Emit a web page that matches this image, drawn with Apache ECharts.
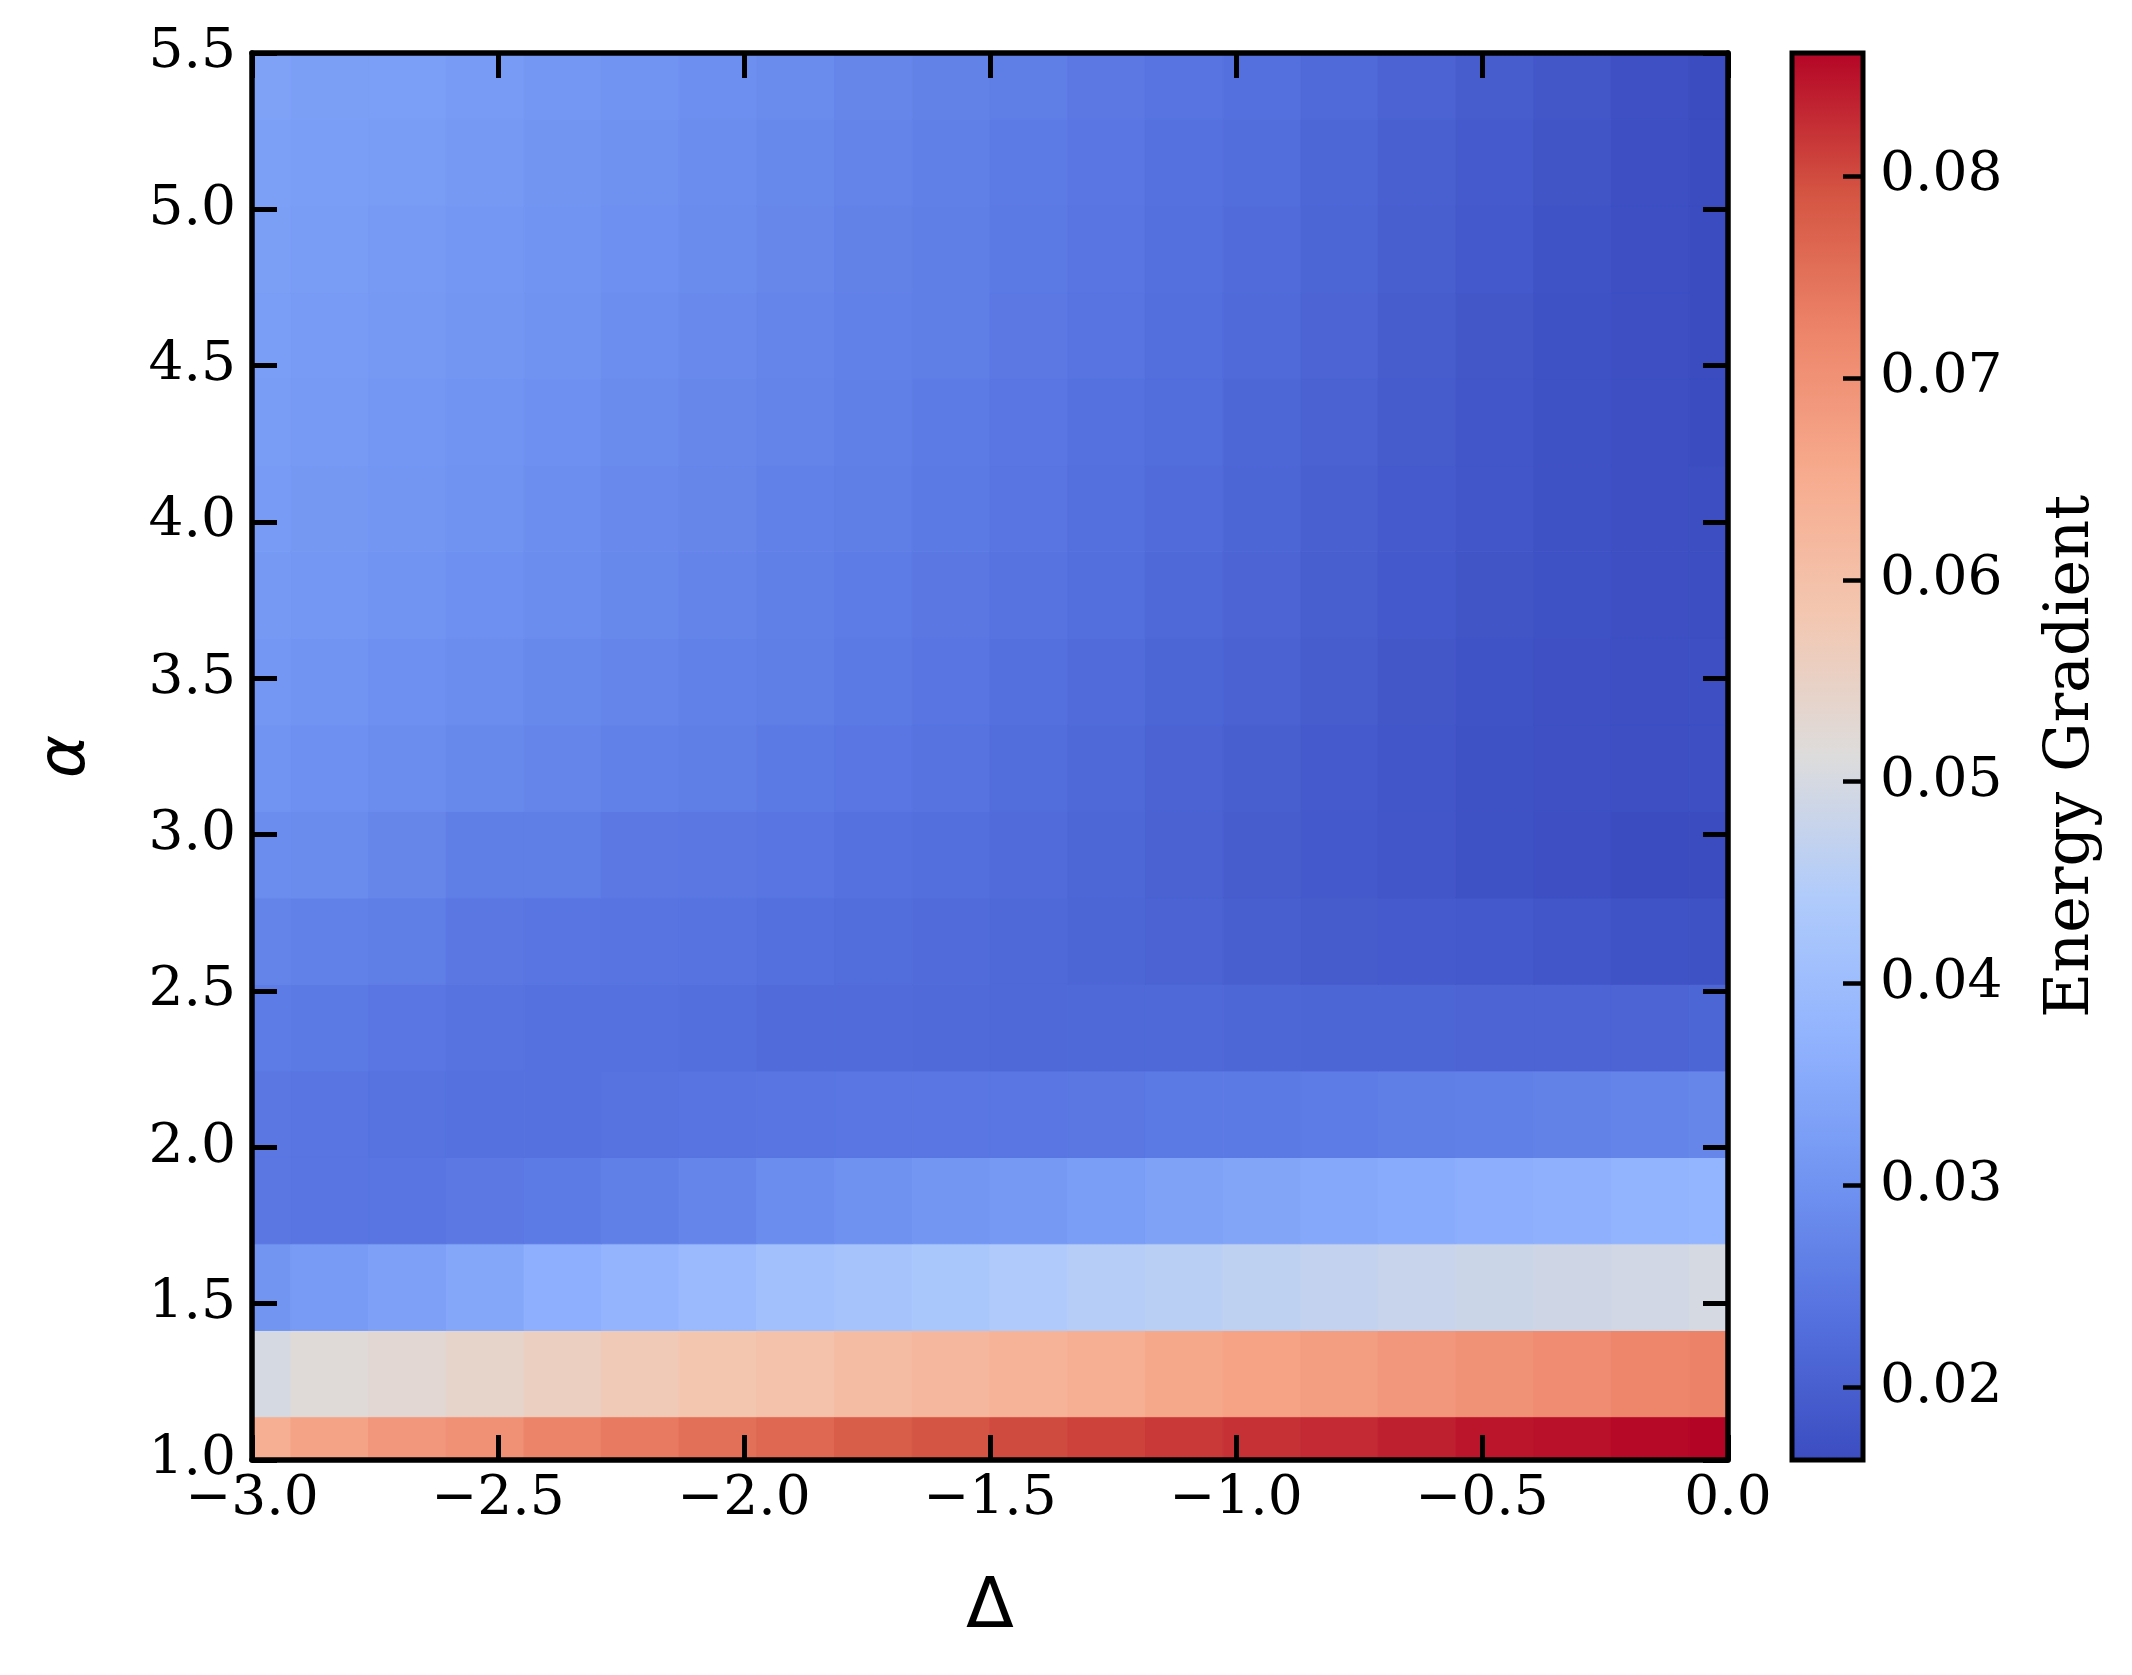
<!DOCTYPE html>
<html><head><meta charset="utf-8">
<script src="https://cdn.jsdelivr.net/npm/echarts@6/dist/echarts.min.js"></script>
<style>html,body{margin:0;padding:0;background:#fff}#c{width:2132px;height:1675px}</style>
</head><body><div id="c"></div>
<script>
// Δ (x) cell centres and α (y) cell centres
const deltaValues = [-3.000,-2.842,-2.684,-2.526,-2.368,-2.211,-2.053,-1.895,-1.737,-1.579,-1.421,-1.263,-1.105,-0.947,-0.789,-0.632,-0.474,-0.316,-0.158,0.000];
const alphaValues = [1.000,1.277,1.553,1.830,2.106,2.383,2.660,2.936,3.213,3.489,3.766,4.043,4.319,4.596,4.872,5.149,5.426];

// Energy gradient, one row per α (bottom to top), one value per Δ
const row_1_000 = [0.0643,0.0667,0.0689,0.0701,0.0723,0.0737,0.0753,0.0763,0.0777,0.0790,0.0799,0.0806,0.0815,0.0822,0.0828,0.0837,0.0846,0.0850,0.0857,0.0861];
const row_1_277 = [0.0499,0.0520,0.0529,0.0542,0.0556,0.0572,0.0585,0.0597,0.0609,0.0622,0.0632,0.0642,0.0657,0.0669,0.0678,0.0689,0.0698,0.0709,0.0720,0.0725];
const row_1_553 = [0.0305,0.0319,0.0332,0.0347,0.0365,0.0379,0.0393,0.0412,0.0421,0.0430,0.0443,0.0452,0.0458,0.0466,0.0472,0.0478,0.0485,0.0489,0.0494,0.0499];
const row_1_830 = [0.0248,0.0243,0.0243,0.0250,0.0255,0.0265,0.0274,0.0289,0.0298,0.0308,0.0314,0.0323,0.0334,0.0341,0.0349,0.0356,0.0362,0.0369,0.0375,0.0377];
const row_2_106 = [0.0248,0.0243,0.0239,0.0236,0.0236,0.0239,0.0241,0.0243,0.0246,0.0246,0.0246,0.0248,0.0253,0.0253,0.0257,0.0260,0.0265,0.0269,0.0272,0.0277];
const row_2_383 = [0.0257,0.0253,0.0246,0.0239,0.0236,0.0236,0.0231,0.0225,0.0225,0.0223,0.0220,0.0220,0.0220,0.0217,0.0214,0.0214,0.0211,0.0211,0.0211,0.0214];
const row_2_660 = [0.0272,0.0267,0.0260,0.0248,0.0243,0.0241,0.0239,0.0234,0.0228,0.0225,0.0220,0.0214,0.0209,0.0200,0.0195,0.0192,0.0189,0.0184,0.0178,0.0175];
const row_2_936 = [0.0289,0.0287,0.0277,0.0260,0.0260,0.0250,0.0248,0.0243,0.0236,0.0231,0.0225,0.0217,0.0206,0.0197,0.0189,0.0184,0.0175,0.0170,0.0164,0.0164];
const row_3_213 = [0.0303,0.0296,0.0289,0.0282,0.0274,0.0267,0.0260,0.0253,0.0246,0.0239,0.0228,0.0220,0.0209,0.0200,0.0192,0.0184,0.0175,0.0172,0.0170,0.0170];
const row_3_489 = [0.0310,0.0303,0.0296,0.0289,0.0282,0.0274,0.0267,0.0260,0.0253,0.0243,0.0234,0.0225,0.0214,0.0206,0.0197,0.0186,0.0178,0.0172,0.0170,0.0170];
const row_3_766 = [0.0314,0.0310,0.0303,0.0296,0.0289,0.0282,0.0272,0.0265,0.0257,0.0248,0.0239,0.0231,0.0220,0.0211,0.0200,0.0189,0.0181,0.0175,0.0170,0.0167];
const row_4_043 = [0.0319,0.0312,0.0308,0.0301,0.0291,0.0284,0.0277,0.0267,0.0260,0.0253,0.0243,0.0234,0.0225,0.0214,0.0203,0.0192,0.0184,0.0175,0.0170,0.0167];
const row_4_319 = [0.0321,0.0317,0.0310,0.0303,0.0296,0.0287,0.0279,0.0272,0.0265,0.0255,0.0246,0.0236,0.0228,0.0217,0.0206,0.0195,0.0184,0.0175,0.0170,0.0164];
const row_4_596 = [0.0323,0.0319,0.0314,0.0308,0.0301,0.0291,0.0284,0.0274,0.0267,0.0260,0.0250,0.0241,0.0231,0.0223,0.0211,0.0197,0.0186,0.0175,0.0170,0.0164];
const row_4_872 = [0.0328,0.0321,0.0317,0.0310,0.0303,0.0296,0.0287,0.0279,0.0269,0.0262,0.0253,0.0243,0.0234,0.0225,0.0214,0.0200,0.0189,0.0178,0.0170,0.0164];
const row_5_149 = [0.0330,0.0323,0.0321,0.0314,0.0305,0.0298,0.0289,0.0282,0.0272,0.0265,0.0255,0.0246,0.0236,0.0228,0.0217,0.0203,0.0192,0.0181,0.0170,0.0164];
const row_5_426 = [0.0334,0.0328,0.0325,0.0319,0.0310,0.0303,0.0294,0.0287,0.0277,0.0269,0.0260,0.0250,0.0241,0.0234,0.0223,0.0209,0.0197,0.0186,0.0172,0.0164];
const energyRows = [row_1_000,row_1_277,row_1_553,row_1_830,row_2_106,row_2_383,row_2_660,row_2_936,row_3_213,row_3_489,row_3_766,row_4_043,row_4_319,row_4_596,row_4_872,row_5_149,row_5_426];

// colour scale (coolwarm) and colorbar
const cbarMin = 0.0164, cbarMax = 0.0861;
const cbarTicks = [0.02,0.03,0.04,0.05,0.06,0.07,0.08];
const coolwarm = ['#3b4cc0','#5470de','#7194f2','#91b3fe','#b0cbfb','#dddcdc','#f3c7b1','#f7ab8e','#ed856a','#d45442','#b40426'];

const heatData = [];
for (let i = 0; i < alphaValues.length; i++)
  for (let j = 0; j < deltaValues.length; j++)
    heatData.push([deltaValues[j], alphaValues[i], energyRows[i][j]]);

const halfW = (deltaValues[1] - deltaValues[0]) / 2;
const halfH = (alphaValues[1] - alphaValues[0]) / 2;

const minus = v => (v < -1e-9 ? '\u2212' + Math.abs(v).toFixed(1) : Math.abs(v).toFixed(1));
const serif = 'DejaVu Serif';
const tickFont = () => ({fontFamily: serif, fontSize: 55, color: '#000'});
const mkLine = () => ({show: true, onZero: false, lineStyle: {color: '#000', width: 5.5}});
const mkTick = (len, w) => ({show: true, inside: true, length: len, lineStyle: {color: '#000', width: w}});

const chart = echarts.init(document.getElementById('c'), null, {renderer: 'canvas'});
chart.setOption({
  backgroundColor: '#fff',
  animation: false,
  grid: [
    {left: 252, top: 53, width: 1476, height: 1407},
    {left: 1792, top: 53, width: 71, height: 1407}
  ],
  visualMap: {type: 'continuous', show: false, min: cbarMin, max: cbarMax, dimension: 2, seriesIndex: 0, inRange: {color: coolwarm}},
  xAxis: [
    {gridIndex: 0, type: 'value', position: 'bottom', min: -3, max: 0, interval: 0.5, z: 10,
     axisLine: mkLine(), axisTick: mkTick(25, 5), splitLine: {show: false},
     axisLabel: Object.assign({margin: 12, formatter: minus}, tickFont()),
     name: 'Δ', nameLocation: 'middle', nameGap: 114,
     nameTextStyle: {fontFamily: 'DejaVu Sans', fontSize: 70, color: '#000'}},
    {gridIndex: 0, type: 'value', position: 'top', min: -3, max: 0, interval: 0.5, z: 10,
     axisLine: mkLine(), axisTick: mkTick(25, 5), splitLine: {show: false}, axisLabel: {show: false}},
    {gridIndex: 1, type: 'value', min: 0, max: 1, show: false}
  ],
  yAxis: [
    {gridIndex: 0, type: 'value', position: 'left', min: 1, max: 5.5, interval: 0.5, z: 10,
     axisLine: mkLine(), axisTick: mkTick(25, 5), splitLine: {show: false},
     axisLabel: Object.assign({margin: 16, formatter: v => v.toFixed(1)}, tickFont()),
     name: 'α', nameLocation: 'middle', nameGap: 152, nameRotate: 90,
     nameTextStyle: {fontFamily: 'DejaVu Sans', fontStyle: 'italic', fontSize: 66, color: '#000'}},
    {gridIndex: 0, type: 'value', position: 'right', min: 1, max: 5.5, interval: 0.5, z: 10,
     axisLine: mkLine(), axisTick: mkTick(25, 5), splitLine: {show: false}, axisLabel: {show: false}},
    {gridIndex: 1, type: 'value', position: 'right', min: cbarMin, max: cbarMax, z: 10,
     axisLine: {show: false, onZero: false}, splitLine: {show: false},
     axisTick: Object.assign(mkTick(20, 4.5), {customValues: cbarTicks}),
     axisLabel: Object.assign({margin: 17, customValues: cbarTicks, formatter: v => v.toFixed(2)}, tickFont()),
     name: 'Energy Gradient', nameLocation: 'middle', nameGap: 178, nameRotate: 90,
     nameTextStyle: {fontFamily: serif, fontSize: 62, color: '#000'}}
  ],
  series: [
    {type: 'custom', xAxisIndex: 0, yAxisIndex: 0, data: heatData, encode: {x: 0, y: 1},
     renderItem: function (params, api) {
       const x = api.value(0), y = api.value(1);
       const p0 = api.coord([x - halfW, y + halfH]);
       const p1 = api.coord([x + halfW, y - halfH]);
       const cs = params.coordSys;
       const shape = echarts.graphic.clipRectByRect(
         {x: p0[0], y: p0[1], width: p1[0] - p0[0], height: p1[1] - p0[1]},
         {x: cs.x, y: cs.y, width: cs.width, height: cs.height});
       if (!shape) return;
       const c = api.visual('color');
       return {type: 'rect', shape: shape, style: {fill: c, stroke: c, lineWidth: 1}};
     }},
    {type: 'custom', xAxisIndex: 2, yAxisIndex: 2, data: [[0, cbarMin, cbarMax]], z: 3,
     renderItem: function (params, api) {
       const p0 = api.coord([0, api.value(2)]);
       const p1 = api.coord([1, api.value(1)]);
       const stops = coolwarm.map((c, i) => ({offset: i / (coolwarm.length - 1), color: c}));
       return {type: 'rect', shape: {x: p0[0], y: p0[1], width: p1[0] - p0[0], height: p1[1] - p0[1]},
               style: {fill: new echarts.graphic.LinearGradient(0, 1, 0, 0, stops), stroke: '#000', lineWidth: 5}};
     }}
  ]
});
</script>
</body></html>
